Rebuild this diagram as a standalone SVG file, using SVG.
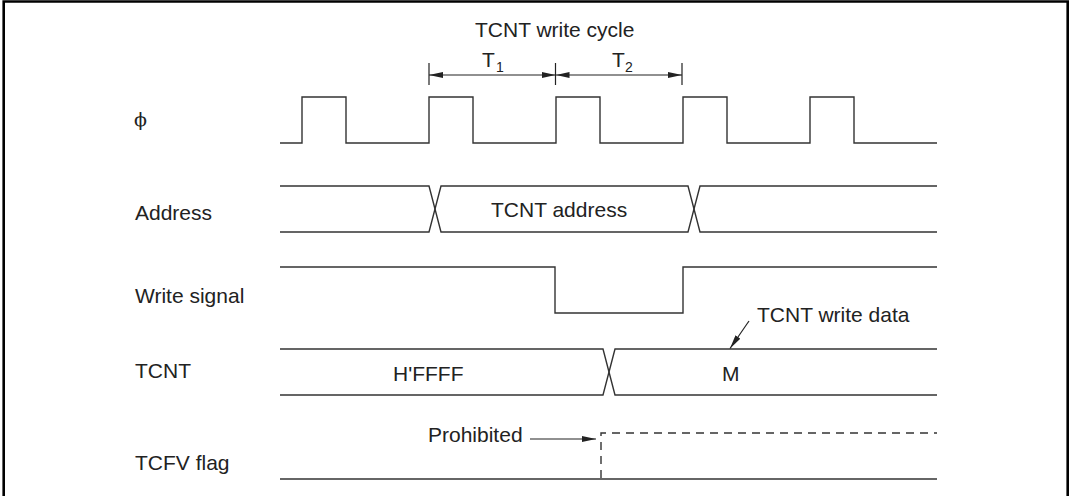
<svg xmlns="http://www.w3.org/2000/svg" width="1074" height="496" viewBox="0 0 1074 496">
<defs>
<marker id="ah" viewBox="0 0 14 6" refX="14" refY="3" markerWidth="14" markerHeight="6" markerUnits="userSpaceOnUse" orient="auto-start-reverse">
<path d="M0,0 L14,3 L0,6 Z" fill="#222"/>
</marker>
</defs>
<style>
.t{font-family:"Liberation Sans",Arial,sans-serif;font-size:21px;fill:#222}
.sub{font-family:"Liberation Sans",Arial,sans-serif;font-size:14px;fill:#222}
.w{fill:none;stroke:#333;stroke-width:1.4;stroke-linejoin:miter}
.d{fill:none;stroke:#333;stroke-width:1.4;stroke-dasharray:8 6}
.c{fill:none;stroke:#222;stroke-width:1.2}
</style>
<rect width="1074" height="496" fill="#fff"/>
<path d="M3.7,500 V1.5 H1067.7 V500" fill="none" stroke="#000" stroke-width="2.6"/>

<g id="clock">
<text x="134" y="126" style="font-family:'DejaVu Serif','Liberation Serif',serif;font-size:19px;fill:#222">ϕ</text>
<path class="w" d="M280,143 H302 V97 H346 V143 H429 V97 H473 V143 H556 V97 H600 V143 H683 V97 H727 V143 H810 V97 H854 V143 H937"/>
</g>

<g id="address">
<text class="t" x="135" y="220">Address</text>
<path class="w" d="M280,186 H429 L441,232 H688 L700,186 H937"/>
<path class="w" d="M280,232 H429 L441,186 H688 L700,232 H937"/>
<text class="t" x="491" y="217">TCNT address</text>
</g>

<g id="write-signal">
<text class="t" x="135" y="303">Write signal</text>
<path class="w" d="M280,267 H555 V313 H683 V267 H937"/>
</g>

<g id="tcnt">
<text class="t" x="135" y="378">TCNT</text>
<path class="w" d="M280,349 H603 L615,395 H937"/>
<path class="w" d="M280,395 H603 L615,349 H937"/>
<text class="t" x="393" y="381">H'FFFF</text>
<text class="t" x="722" y="381">M</text>
</g>

<g id="tcfv">
<text class="t" x="135" y="470">TCFV flag</text>
<path class="w" d="M280,479 H937"/>
<path class="d" d="M601,478 V433 H937"/>
</g>

<g id="annotations">
<text class="t" x="475" y="37">TCNT write cycle</text>
<text class="t" x="482" y="67">T</text><text class="sub" x="496" y="72">1</text>
<text class="t" x="612" y="67">T</text><text class="sub" x="625" y="72">2</text>
<text class="t" x="757" y="322">TCNT write data</text>
<text class="t" x="428" y="442">Prohibited</text>
</g>

<g id="connectors">
<path class="c" d="M429,63 V85 M555.5,63 V85 M682,63 V85"/>
<path class="c" d="M429,75 H555.5" marker-start="url(#ah)" marker-end="url(#ah)"/>
<path class="c" d="M555.5,75 H682" marker-start="url(#ah)" marker-end="url(#ah)"/>
<path class="c" d="M749,321 L730,348.5" marker-end="url(#ah)"/>
<path class="c" d="M530,439 H596" marker-end="url(#ah)"/>
</g>
</svg>
